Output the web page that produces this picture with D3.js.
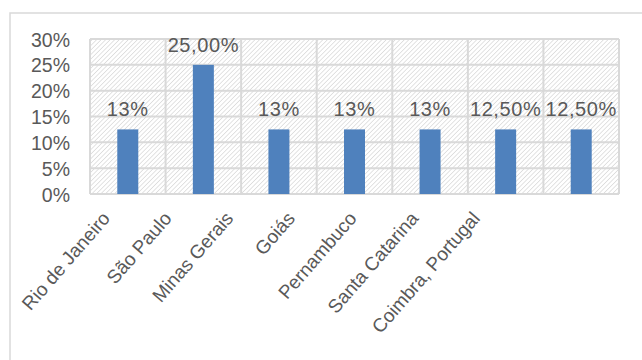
<!DOCTYPE html>
<html><head><meta charset="utf-8">
<script src="https://cdn.jsdelivr.net/npm/d3@7"></script>
<style>html,body{margin:0;padding:0;background:#fff;}svg{display:block;}</style>
</head><body>
<svg id="c" width="642" height="360"></svg>
<script>
const categories = ["Rio de Janeiro","São Paulo","Minas Gerais","Goiás","Pernambuco","Santa Catarina","Coimbra, Portugal"];
const values = [0.125, 0.25, 0.125, 0.125, 0.125, 0.125, 0.125];
const dataLabels = ["13%","25,00%","13%","13%","13%","12,50%","12,50%"];
const yTicks = [0, 0.05, 0.10, 0.15, 0.20, 0.25, 0.30];
const yTickLabels = ["0%","5%","10%","15%","20%","25%","30%"];

const svg = d3.select("#c");
const W = 642, H = 360;
const plot = {left: 90, right: 619, top: 39, bottom: 194};
const font = "'Liberation Sans', Arial, sans-serif";
const textColor = "#595959";

// outer chart border (top & left visible)
svg.append("path").attr("d", `M10,${H} L10,13 L${W},13`).attr("fill","none").attr("stroke","#d9d9d9").attr("stroke-width",1.5);

const defs = svg.append("defs");
const pat = defs.append("pattern").attr("id","hatch").attr("patternUnits","userSpaceOnUse")
  .attr("width",3.2).attr("height",3.2).attr("patternTransform","rotate(45)");
pat.append("rect").attr("width",3.2).attr("height",3.2).attr("fill","#fff");
pat.append("line").attr("x1",0).attr("y1",0).attr("x2",0).attr("y2",3.2).attr("stroke","#cdcdcd").attr("stroke-width",1.1);

const x = d3.scaleBand().domain(categories).range([plot.left, plot.right]).paddingInner(0).paddingOuter(0);
const y = d3.scaleLinear().domain([0, 0.30]).range([plot.bottom, plot.top]);

// hatched plot background
svg.append("rect").attr("x",plot.left).attr("y",plot.top).attr("width",plot.right-plot.left).attr("height",plot.bottom-plot.top).attr("fill","url(#hatch)");

// horizontal gridlines
svg.append("g").selectAll("line").data(yTicks).join("line")
  .attr("x1",plot.left).attr("x2",plot.right)
  .attr("y1",d=>y(d)).attr("y2",d=>y(d))
  .attr("stroke","#d9d9d9").attr("stroke-width",2);
// vertical gridlines at category boundaries
const bounds = categories.map(c=>x(c)).concat([plot.right]);
svg.append("g").selectAll("line").data(bounds).join("line")
  .attr("x1",d=>d).attr("x2",d=>d).attr("y1",plot.top).attr("y2",plot.bottom)
  .attr("stroke","#d9d9d9").attr("stroke-width",2);

// y axis labels
const yAxis = d3.axisLeft(y).tickValues(yTicks).tickFormat((d,i)=>yTickLabels[i]).tickSize(0).tickPadding(0);
const ga = svg.append("g").attr("transform",`translate(70,0)`).call(yAxis);
ga.select(".domain").remove();
ga.selectAll("text").attr("font-family",font).attr("font-size",19.5).attr("fill",textColor).attr("dy","0.36em");

// bars
const barW = 21;
svg.append("g").selectAll("rect").data(values).join("rect")
  .attr("x",(d,i)=>x(categories[i]) + x.bandwidth()/2 - barW/2)
  .attr("width",barW)
  .attr("y",d=>y(d)).attr("height",d=>y(0)-y(d))
  .attr("fill","#4f81bd");

// data labels
svg.append("g").selectAll("text").data(values).join("text")
  .attr("x",(d,i)=>x(categories[i]) + x.bandwidth()/2)
  .attr("y",d=>y(d)-13)
  .attr("text-anchor","middle")
  .attr("font-family",font).attr("font-size",20).attr("letter-spacing",0.6).attr("fill",textColor)
  .text((d,i)=>dataLabels[i]);

// x labels, rotated
const xl = d3.scalePoint().domain(categories).range([111, 481]);
svg.append("g").selectAll("text").data(categories).join("text")
  .attr("transform",d=>`translate(${xl(d)},219) rotate(-49)`)
  .attr("text-anchor","end")
  .attr("font-family",font).attr("font-size",19).attr("fill",textColor)
  .text(d=>d);
</script>
</body></html>
